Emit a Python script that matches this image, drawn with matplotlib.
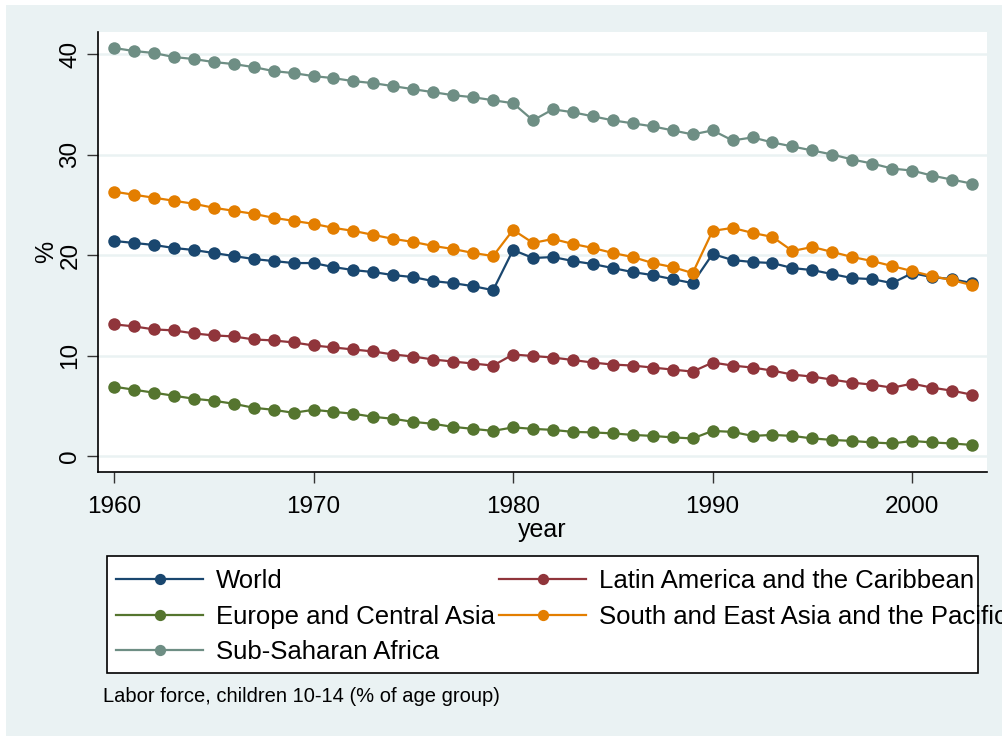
import numpy as np
import matplotlib as mpl
mpl.use('Agg')
import matplotlib.pyplot as plt
from matplotlib.patches import Rectangle

plt.rcParams['font.family'] = ['Liberation Sans', 'DejaVu Sans']

# --------------------------
# Data
# --------------------------
years = list(range(1960, 2004))

world = [21.4, 21.2, 21.0, 20.7, 20.5, 20.2, 19.9, 19.6, 19.4, 19.2,
         19.2, 18.8, 18.5, 18.3, 18.0, 17.8, 17.4, 17.2, 16.9, 16.5,
         20.5, 19.7, 19.8, 19.4, 19.1, 18.7, 18.3, 18.0, 17.6, 17.2,
         20.1, 19.5, 19.3, 19.2, 18.7, 18.5, 18.1, 17.7, 17.6, 17.2,
         18.2, 17.8, 17.6, 17.2]

latam = [13.1, 12.9, 12.6, 12.5, 12.2, 12.0, 11.9, 11.6, 11.5, 11.3,
         11.0, 10.8, 10.6, 10.4, 10.1, 9.9, 9.6, 9.4, 9.2, 9.0,
         10.1, 9.95, 9.8, 9.55, 9.3, 9.1, 9.0, 8.8, 8.6, 8.4,
         9.3, 9.0, 8.8, 8.5, 8.1, 7.9, 7.6, 7.3, 7.1, 6.8,
         7.2, 6.8, 6.5, 6.1]

eca = [6.9, 6.6, 6.3, 6.0, 5.7, 5.5, 5.2, 4.8, 4.6, 4.3,
       4.6, 4.4, 4.2, 3.9, 3.7, 3.4, 3.2, 2.9, 2.7, 2.5,
       2.85, 2.7, 2.6, 2.4, 2.35, 2.25, 2.1, 2.0, 1.85, 1.75,
       2.5, 2.4, 2.0, 2.1, 2.0, 1.75, 1.6, 1.5, 1.35, 1.25,
       1.5, 1.35, 1.25, 1.1]

seap = [26.3, 26.0, 25.7, 25.4, 25.1, 24.7, 24.4, 24.1, 23.7, 23.4,
        23.1, 22.7, 22.4, 22.0, 21.6, 21.3, 20.9, 20.6, 20.2, 19.9,
        22.5, 21.2, 21.6, 21.1, 20.7, 20.2, 19.8, 19.2, 18.8, 18.2,
        22.4, 22.7, 22.2, 21.8, 20.4, 20.8, 20.3, 19.8, 19.4, 18.9,
        18.4, 17.9, 17.5, 17.0]

ssa = [40.6, 40.3, 40.1, 39.7, 39.5, 39.2, 39.0, 38.7, 38.3, 38.1,
       37.8, 37.6, 37.3, 37.1, 36.8, 36.5, 36.2, 35.9, 35.7, 35.4,
       35.1, 33.4, 34.5, 34.2, 33.8, 33.4, 33.1, 32.8, 32.4, 32.0,
       32.4, 31.4, 31.7, 31.2, 30.8, 30.4, 30.0, 29.5, 29.1, 28.6,
       28.4, 27.9, 27.5, 27.1]

series = [world, latam, eca, seap, ssa]
names = ["World", "Latin America and the Caribbean", "Europe and Central Asia",
         "South and East Asia and the Pacific", "Sub-Saharan Africa"]
colors = ["#1A476F", "#90353B", "#55752F", "#E37E00", "#6E8E84"]

x_ticks = [1960, 1970, 1980, 1990, 2000]
y_ticks = [0, 10, 20, 30, 40]

BG = "#EAF2F3"
W, H = 1002, 736

# --------------------------
# Figure
# --------------------------
fig = plt.figure(figsize=(W / 100, H / 100), dpi=100, facecolor='white')
fig.add_artist(Rectangle((6 / W, 0), 1 - 6 / W, 1 - 5 / H,
                         transform=fig.transFigure, facecolor=BG,
                         edgecolor='none', zorder=-10))

ax = fig.add_axes([98 / W, 1 - 472 / H, (987 - 98) / W, (472 - 32) / H])
ax.set_facecolor('white')

lines = []
for vals, name, c in zip(series, names, colors):
    ln, = ax.plot(years, vals, color=c, lw=1.6, marker='o', ms=9,
                  markeredgewidth=0, label=name, zorder=3)
    lines.append(ln)

ax.set_xlim(1959.2, 2003.75)
ax.set_ylim(-1.59, 42.19)
ax.set_xticks(x_ticks)
ax.set_yticks(y_ticks)
ax.tick_params(axis='both', labelsize=17.5, length=8, width=1.0,
               direction='out', color='#333333')
ax.tick_params(axis='x', pad=9)
ax.tick_params(axis='y', pad=4)
for lab in ax.get_yticklabels():
    lab.set_rotation(90)
    lab.set_va('center')

ax.grid(axis='y', color=BG, lw=1.8)
ax.set_axisbelow(True)
for s in ['top', 'right']:
    ax.spines[s].set_visible(False)
for s in ['left', 'bottom']:
    ax.spines[s].set_linewidth(1.2)

ax.set_xlabel("year", fontsize=18, labelpad=0)
ax.set_ylabel("%", fontsize=18, labelpad=1)

# --------------------------
# Legend (box drawn separately so long text can overflow like the original)
# --------------------------
order = [0, 2, 4, 1, 3]
fig.legend([lines[i] for i in order], [names[i] for i in order],
           ncol=2, frameon=False, loc='upper left',
           bbox_to_anchor=(116 / W, 1 - 569 / H), bbox_transform=fig.transFigure,
           borderaxespad=0, borderpad=0, fontsize=18.5,
           handlelength=3.4, handletextpad=0.5, columnspacing=0.15,
           labelspacing=0.45, markerscale=0.9)
fig.add_artist(Rectangle((107 / W, 1 - 673 / H), (978 - 107) / W, (673 - 556) / H,
                         transform=fig.transFigure, facecolor='white',
                         edgecolor='black', lw=1.2, zorder=-5))

fig.text(103 / W, 1 - 697 / H, "Labor force, children 10-14 (% of age group)",
         fontsize=14.5, va='center', ha='left')

plt.savefig("out.png", dpi=100, facecolor=fig.get_facecolor())
plt.close()
